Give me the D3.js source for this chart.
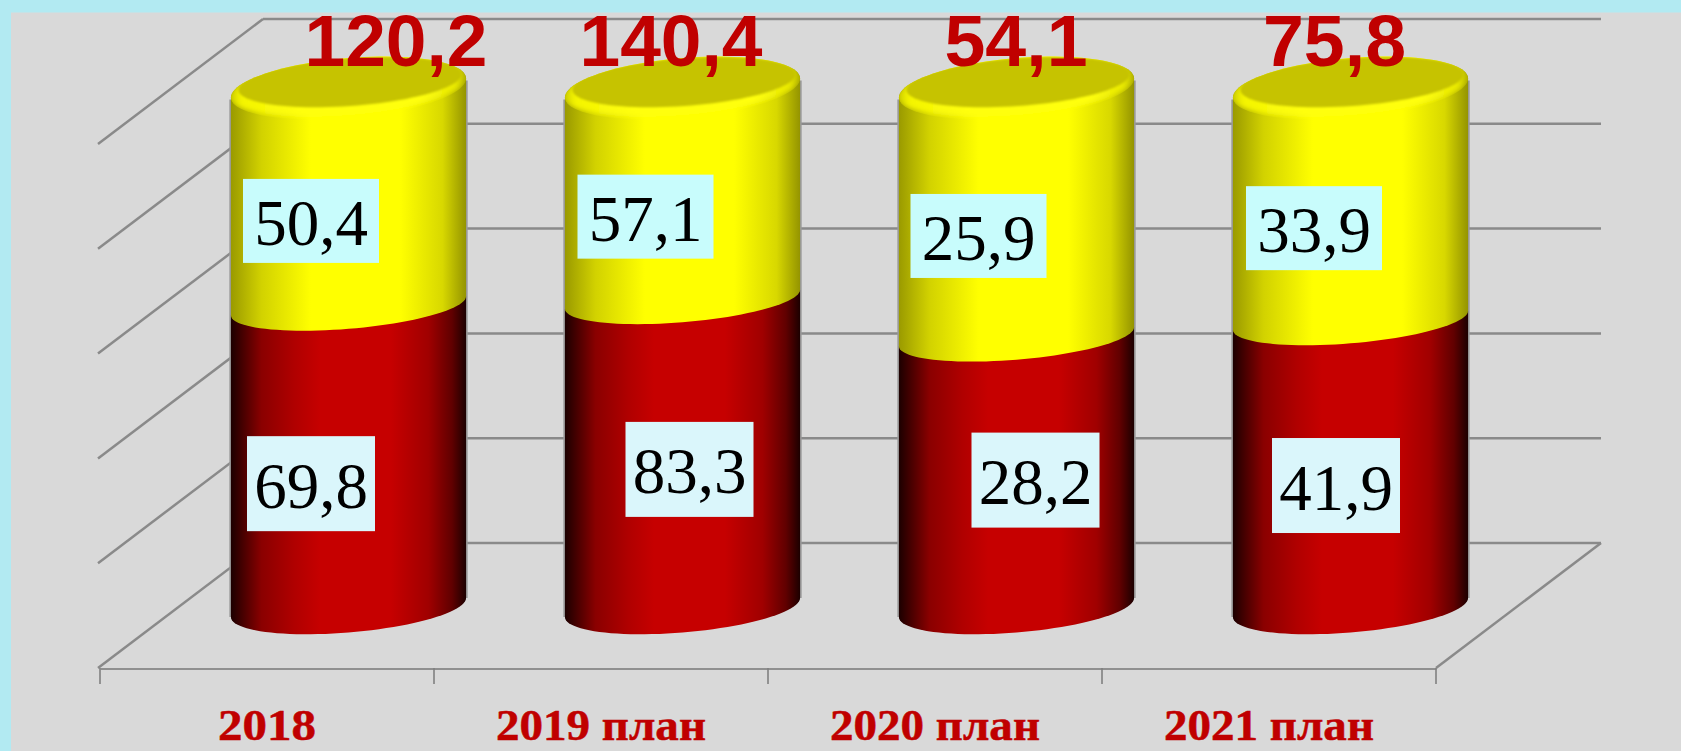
<!DOCTYPE html>
<html><head><meta charset="utf-8">
<script src="https://cdn.jsdelivr.net/npm/d3@7"></script>
<style>html,body{margin:0;padding:0;background:#B2EAF2;overflow:hidden}svg{display:block}</style>
</head><body><div id="chart"></div>
<script>
const categories = ["2018", "2019 план", "2020 план", "2021 план"];
const lowerValues = [69.8, 83.3, 28.2, 41.9];
const upperValues = [50.4, 57.1, 25.9, 33.9];
const totalValues = [120.2, 140.4, 54.1, 75.8];
const shareTicks = [0, 0.2, 0.4, 0.6, 0.8, 1];

// hand placement of labels, relative to what the scales give
const lowerLabelShift = [[-37.5, 27], [7, 16], [19, 8], [-14.5, 21.6]];
const upperLabelShift = [[-37.5, 24], [-37, 23], [-38, 23.6], [-36.5, 24]];
const totalLabelShift = [47.5, -11.5, -0.5, -16];

const W = 1681, H = 751;
const fmt = v => v.toFixed(1).replace(".", ",");
const floor = {x0: 100, x1: 1436, y: 668};
const depth = {dx: 163, dy: -125};
const wallRight = 1601;

const svg = d3.select("#chart").append("svg").attr("width", W).attr("height", H);
const defs = svg.append("defs");

function hGrad(id, stops) {
  const g = defs.append("linearGradient").attr("id", id).attr("x1", 0).attr("x2", 1).attr("y1", 0).attr("y2", 0);
  stops.forEach(([o, c]) => g.append("stop").attr("offset", o).attr("stop-color", c));
}
hGrad("yel", [[0, "#9a9a00"], [0.13, "#d2d200"], [0.27, "#f0f000"], [0.34, "#ffff00"], [0.72, "#ffff00"], [0.9, "#d8d800"], [1, "#949400"]]);
hGrad("rim", [[0, "#c8c800"], [0.05, "#f4f400"], [0.3, "#ffff10"], [0.8, "#ffff10"], [0.95, "#e8e800"], [1, "#a8a800"]]);
hGrad("red", [[0, "#1c0000"], [0.13, "#8a0000"], [0.27, "#b00000"], [0.38, "#c60000"], [0.68, "#c60000"], [0.84, "#a00000"], [0.94, "#600000"], [1, "#1c0000"]]);
function blur(id, sd) {
  defs.append("filter").attr("id", id).attr("filterUnits", "userSpaceOnUse")
    .attr("x", 0).attr("y", 0).attr("width", W).attr("height", H)
    .append("feGaussianBlur").attr("stdDeviation", sd);
}
blur("soft", 0.7); blur("soft2", 2.4); blur("soft3", 0.9);

svg.append("rect").attr("width", W).attr("height", H).attr("fill", "#B2EAF2");
svg.append("rect").attr("x", 11).attr("y", 12.5).attr("width", W - 11).attr("height", H - 12.5).attr("fill", "#D9D9D9");

const x = d3.scaleBand().domain(categories).range([floor.x0, floor.x1]);
const wallY = d3.scaleLinear().domain([0, 1]).range([floor.y + depth.dy, 19]);
const barY = d3.scaleLinear().domain([0, 1]).range([607.5, 88]);

const grid = svg.append("g").attr("filter", "url(#soft)").attr("fill", "none").attr("stroke", "#8a8a8a").attr("stroke-width", 2.5);
grid.selectAll(".back").data(shareTicks).join("line")
  .attr("x1", floor.x0 + depth.dx).attr("x2", wallRight)
  .attr("y1", d => wallY(d)).attr("y2", d => wallY(d));
grid.selectAll(".side").data(shareTicks).join("line")
  .attr("x1", floor.x0 + depth.dx).attr("y1", d => wallY(d))
  .attr("x2", floor.x0 - 2).attr("y2", d => wallY(d) - depth.dy);
grid.append("line").attr("x1", floor.x1).attr("y1", floor.y).attr("x2", wallRight).attr("y2", floor.y + depth.dy);

// category axis
const axis = d3.axisBottom(x).tickValues([]).tickSize(0);
const axisG = svg.append("g").attr("transform", `translate(0,${floor.y})`).attr("filter", "url(#soft)").call(axis);
axisG.select(".domain").attr("stroke", "#909090").attr("stroke-width", 3.2);
const edges = categories.map(c => x(c)).concat([floor.x1]);
svg.append("g").selectAll("line").data(edges).join("line")
  .attr("x1", d => d).attr("x2", d => d).attr("y1", floor.y).attr("y2", floor.y + 16)
  .attr("stroke", "#808080").attr("stroke-width", 1.6);

const barW = x.bandwidth() * 0.704, a = barW / 2, tilt = 0.081;
const cx = c => x(c) + x.bandwidth() / 2 + depth.dx / 2;
const line = d3.line();
const ts = d3.range(0, 49).map(i => i / 48 * Math.PI);

// half ellipse of a tilted cylinder section, running left to right along the front
const frontArc = (xc, yc, rx, b) => ts.map(t => {
  const c = -Math.cos(t);
  return [xc + rx * c, yc - tilt * rx * c + b * Math.sin(t)];
});
const fullEllipse = (xc, yc, rx, b, k = tilt) => line(d3.range(0, 97).map(i => {
  const t = i / 96 * 2 * Math.PI, c = Math.cos(t);
  return [xc + rx * c, yc - k * rx * c + b * Math.sin(t)];
})) + "Z";

const bars = svg.append("g");
categories.forEach((c, i) => {
  const xc = cx(c), s = lowerValues[i] / totalValues[i];
  const g = bars.append("g");
  const yBase = barY(0), yMid = barY(s), yTop = barY(1);

  // soft grey halo down both flanks
  [-1, 1].forEach(side => {
    g.append("line").attr("x1", xc + side * (a + 0.6)).attr("x2", xc + side * (a + 0.6))
      .attr("y1", yTop + 2 - side * tilt * a).attr("y2", yBase - side * tilt * a)
      .attr("stroke", "#9a9a9a").attr("stroke-width", 2).attr("filter", "url(#soft)");
  });

  const bottom = frontArc(xc, yBase, a, 25);
  const redPts = [[xc - a, yMid + tilt * a], [xc + a, yMid - tilt * a]]
    .concat(bottom.slice().reverse());
  g.append("path").attr("d", line(redPts) + "Z").attr("fill", "url(#red)");

  const mid = frontArc(xc, yMid, a, 23);
  const yelPts = mid.concat([[xc + a, yTop - tilt * a], [xc - a, yTop + tilt * a]]);
  g.append("path").attr("d", line(yelPts) + "Z").attr("fill", "url(#yel)");

  // cap: outer disc, soft bright rim, darker top face
  const capPath = fullEllipse(xc, yTop, a, 30);
  const clipId = "cap" + i;
  defs.append("clipPath").attr("id", clipId).append("path").attr("d", capPath);
  g.append("path").attr("d", capPath).attr("fill", "url(#yel)");
  const capG = g.append("g").attr("clip-path", `url(#${clipId})`);
  capG.append("path").attr("d", fullEllipse(xc, yTop - 1, a + 2, 28)).attr("fill", "url(#rim)").attr("filter", "url(#soft2)");
  capG.append("path").attr("d", fullEllipse(xc + 1.5, yTop - 6, a - 6, 24, 0.07)).attr("fill", "#C6C300").attr("filter", "url(#soft3)");
});

function labelBox(i, c, value, yCenter, shift, w, h, fill) {
  const bx = cx(c) + shift[0], by = yCenter + shift[1];
  const g = svg.append("g");
  g.append("rect").attr("x", bx - w / 2).attr("y", by - h / 2).attr("width", w).attr("height", h).attr("fill", fill);
  g.append("text").attr("x", bx).attr("y", by + 24).attr("text-anchor", "middle")
    .attr("font-family", "'Liberation Serif', serif").attr("font-size", 65).attr("fill", "#000").text(fmt(value));
}
categories.forEach((c, i) => {
  const s = lowerValues[i] / totalValues[i];
  labelBox(i, c, lowerValues[i], barY(s / 2), lowerLabelShift[i], 128, 95, "#DAF6FB");
  labelBox(i, c, upperValues[i], barY((s + 1) / 2), upperLabelShift[i], 136, 84, "#C8FCFC");
});

svg.append("g").selectAll("text").data(totalValues).join("text")
  .attr("x", (d, i) => cx(categories[i]) + totalLabelShift[i])
  .attr("y", barY(1) - 22)
  .attr("text-anchor", "middle")
  .attr("font-family", "'Liberation Sans', Arial, sans-serif").attr("font-weight", 700).attr("font-size", 72)
  .attr("textLength", d => d >= 100 ? 183 : 143).attr("lengthAdjust", "spacingAndGlyphs")
  .attr("fill", "#C00000").text(fmt);

svg.append("g").selectAll("text").data(categories).join("text")
  .attr("x", d => x(d) + x.bandwidth() / 2)
  .attr("y", 740).attr("text-anchor", "middle")
  .attr("font-family", "'Liberation Serif', serif").attr("font-weight", 700).attr("font-size", 44)
  .attr("textLength", d => d.length > 4 ? 210 : 98).attr("lengthAdjust", "spacingAndGlyphs")
  .attr("fill", "#C00000").attr("stroke", "#C00000").attr("stroke-width", 0.5).text(d => d);
</script></body></html>
